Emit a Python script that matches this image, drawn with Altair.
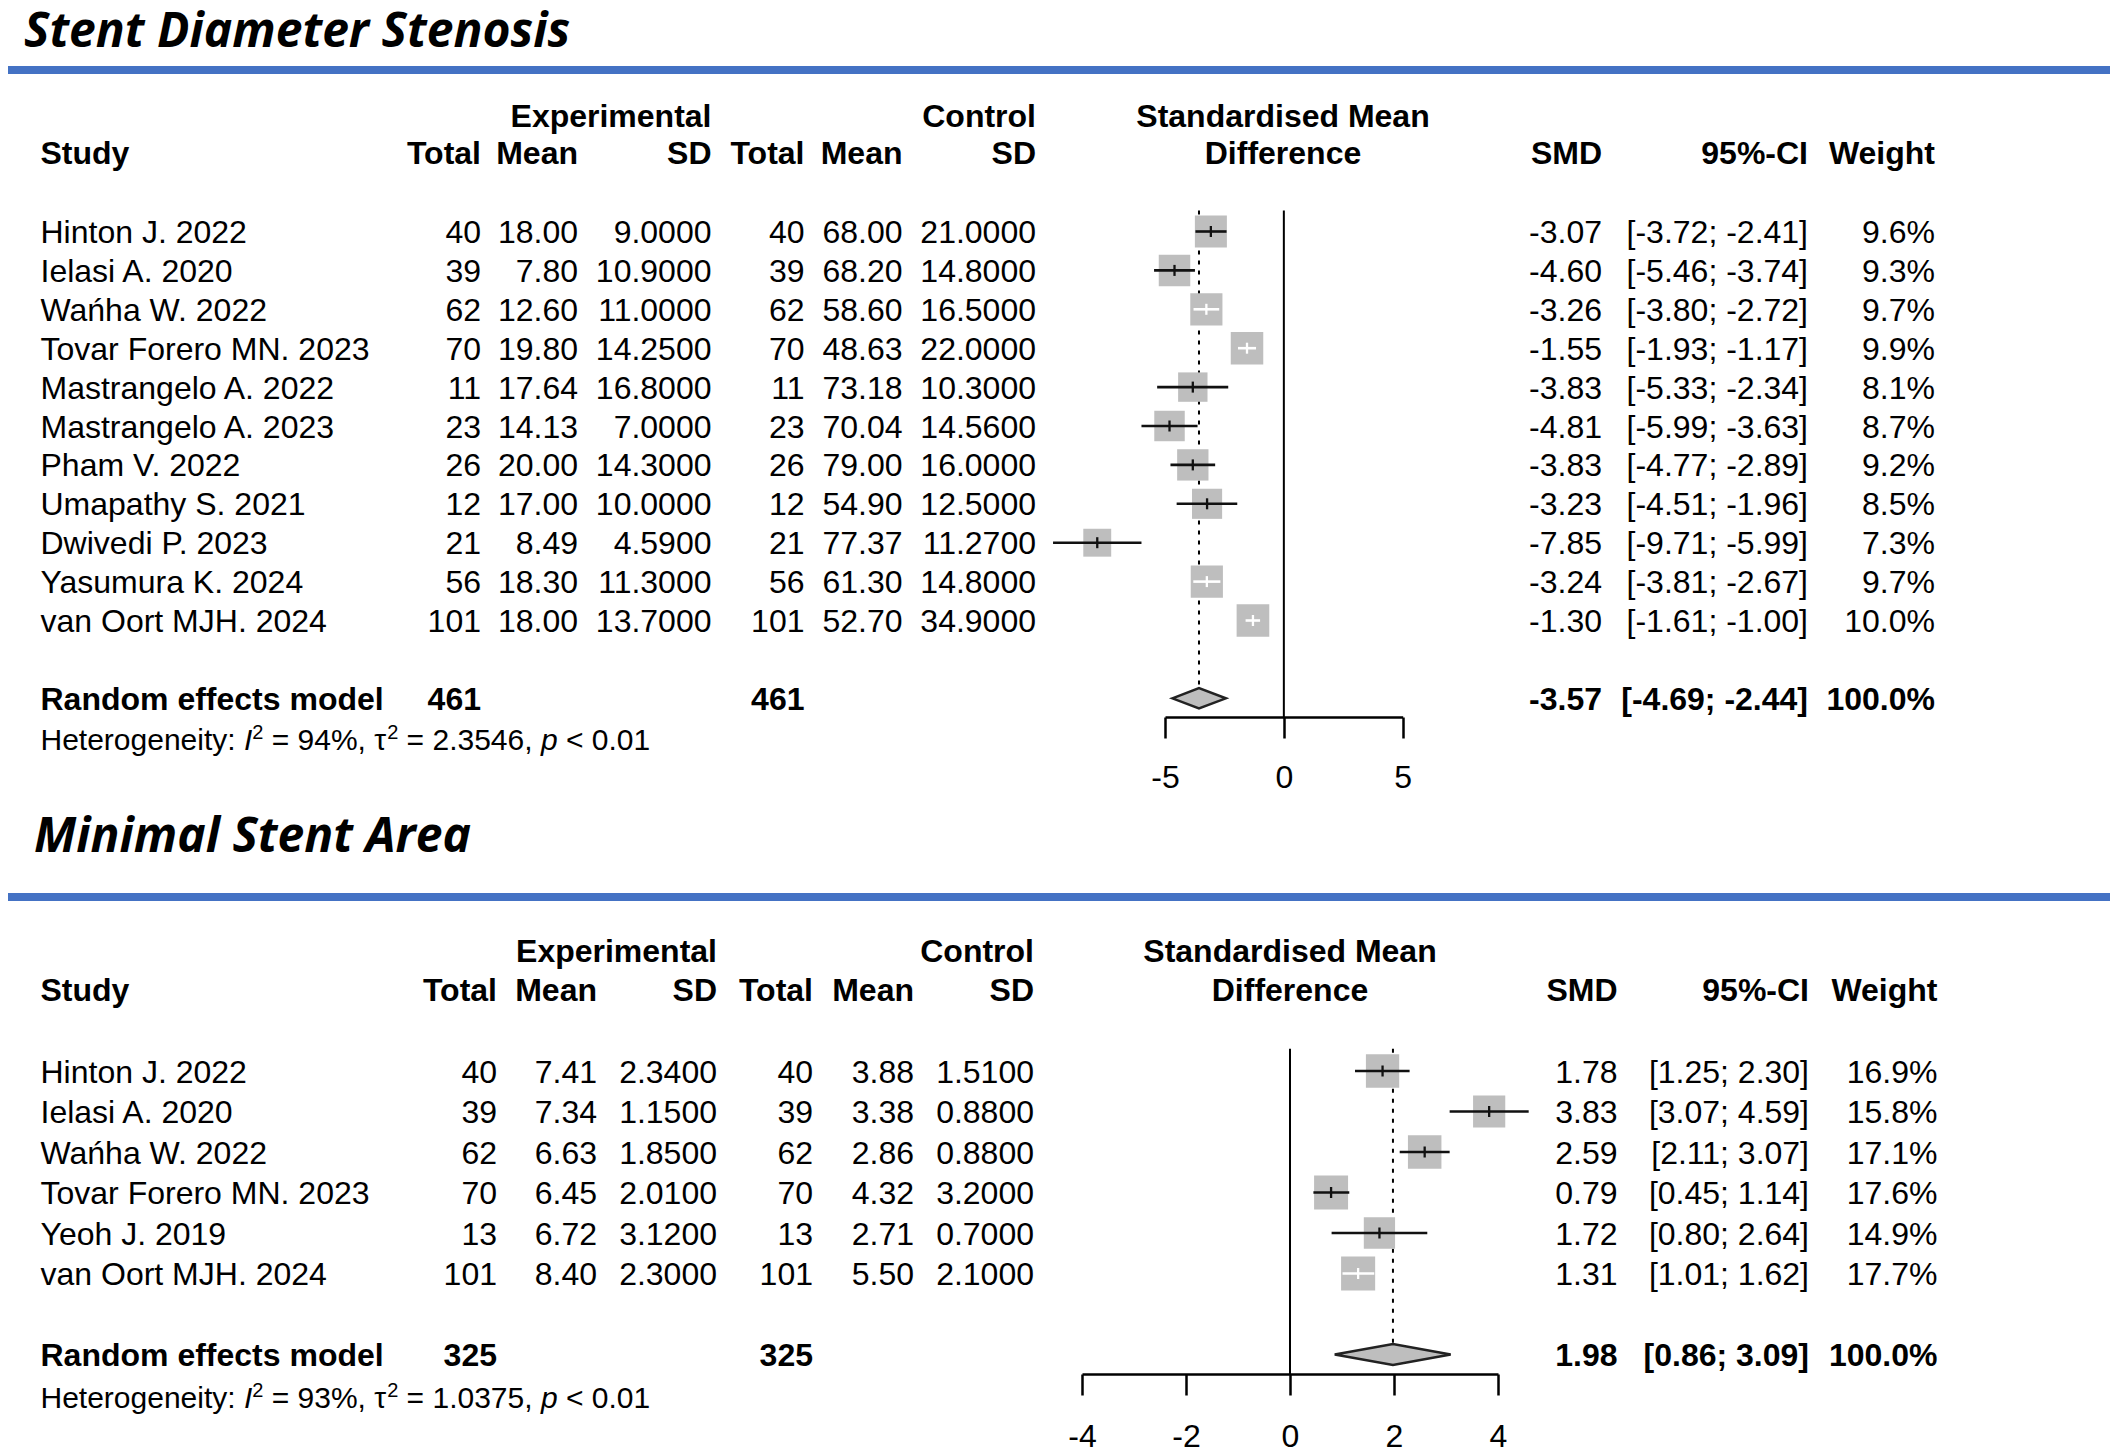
import altair as alt
import pandas as pd

# ---------------- Data: Stent Diameter Stenosis ----------------
sds_studies = ["Hinton J. 2022", "Ielasi A. 2020", "Wańha W. 2022", "Tovar Forero MN. 2023",
               "Mastrangelo A. 2022", "Mastrangelo A. 2023", "Pham V. 2022", "Umapathy S. 2021",
               "Dwivedi P. 2023", "Yasumura K. 2024", "van Oort MJH. 2024"]
sds_exp_total = [40, 39, 62, 70, 11, 23, 26, 12, 21, 56, 101]
sds_exp_mean = [18.00, 7.80, 12.60, 19.80, 17.64, 14.13, 20.00, 17.00, 8.49, 18.30, 18.00]
sds_exp_sd = [9.0, 10.9, 11.0, 14.25, 16.8, 7.0, 14.3, 10.0, 4.59, 11.3, 13.7]
sds_ctrl_total = [40, 39, 62, 70, 11, 23, 26, 12, 21, 56, 101]
sds_ctrl_mean = [68.00, 68.20, 58.60, 48.63, 73.18, 70.04, 79.00, 54.90, 77.37, 61.30, 52.70]
sds_ctrl_sd = [21.0, 14.8, 16.5, 22.0, 10.3, 14.56, 16.0, 12.5, 11.27, 14.8, 34.9]
sds_smd = [-3.07, -4.60, -3.26, -1.55, -3.83, -4.81, -3.83, -3.23, -7.85, -3.24, -1.30]
sds_ci_low = [-3.72, -5.46, -3.80, -1.93, -5.33, -5.99, -4.77, -4.51, -9.71, -3.81, -1.61]
sds_ci_high = [-2.41, -3.74, -2.72, -1.17, -2.34, -3.63, -2.89, -1.96, -5.99, -2.67, -1.00]
sds_weight = [9.6, 9.3, 9.7, 9.9, 8.1, 8.7, 9.2, 8.5, 7.3, 9.7, 10.0]
sds_re = {"exp_total": 461, "ctrl_total": 461, "smd": -3.57, "low": -4.69, "high": -2.44,
          "i2": 94, "tau2": 2.3546, "p": "< 0.01"}
sds_ticks = [-5, 0, 5]

# ---------------- Data: Minimal Stent Area ----------------
msa_studies = ["Hinton J. 2022", "Ielasi A. 2020", "Wańha W. 2022", "Tovar Forero MN. 2023",
               "Yeoh J. 2019", "van Oort MJH. 2024"]
msa_exp_total = [40, 39, 62, 70, 13, 101]
msa_exp_mean = [7.41, 7.34, 6.63, 6.45, 6.72, 8.40]
msa_exp_sd = [2.34, 1.15, 1.85, 2.01, 3.12, 2.30]
msa_ctrl_total = [40, 39, 62, 70, 13, 101]
msa_ctrl_mean = [3.88, 3.38, 2.86, 4.32, 2.71, 5.50]
msa_ctrl_sd = [1.51, 0.88, 0.88, 3.20, 0.70, 2.10]
msa_smd = [1.78, 3.83, 2.59, 0.79, 1.72, 1.31]
msa_ci_low = [1.25, 3.07, 2.11, 0.45, 0.80, 1.01]
msa_ci_high = [2.30, 4.59, 3.07, 1.14, 2.64, 1.62]
msa_weight = [16.9, 15.8, 17.1, 17.6, 14.9, 17.7]
msa_re = {"exp_total": 325, "ctrl_total": 325, "smd": 1.98, "low": 0.86, "high": 3.09,
          "i2": 93, "tau2": 1.0375, "p": "< 0.01"}
msa_ticks = [-4, -2, 0, 2, 4]

# ---------------- Styling ----------------
FONT = "Liberation Sans"
TITLE_FONT = "Open Sans"
TITLE_FS = 48
FS = 32
HET_FS = 30
GREY = "#BEBEBE"
BLUE = "#4472C4"
W = 2102


def f2(v):
    return f"{v:.2f}"


def label(text, x, y, align="left", bold=False, size=FS, font=FONT, italic=False):
    return alt.Chart(pd.DataFrame({"k": [0]})).mark_text(
        text=text, align=align, baseline="alphabetic", font=font, fontSize=size,
        fontWeight="bold" if bold else "normal",
        fontStyle="italic" if italic else "normal", color="black"
    ).encode(x=alt.value(x), y=alt.value(y))


def panel(title, studies, et, em, esd, ct, cm, csd, smd, lo, hi, wt, re, ticks, L):
    n = len(studies)
    df = pd.DataFrame({
        "row": list(range(n)), "study": studies,
        "et": [str(v) for v in et], "em": [f2(v) for v in em], "esd": [f"{v:.4f}" for v in esd],
        "ct": [str(v) for v in ct], "cm": [f2(v) for v in cm], "csd": [f"{v:.4f}" for v in csd],
        "smd": smd, "lo": lo, "hi": hi, "w": wt,
        "smd_s": [f2(v) for v in smd],
        "ci_s": [f"[{f2(a)}; {f2(b)}]" for a, b in zip(lo, hi)],
        "w_s": [f"{v:.1f}%" for v in wt],
    })
    re_row = n + 1
    re_df = pd.DataFrame({
        "row": [re_row], "study": ["Random effects model"],
        "et": [str(re["exp_total"])], "ct": [str(re["ctrl_total"])],
        "smd_s": [f2(re["smd"])], "ci_s": [f"[{f2(re['low'])}; {f2(re['high'])}]"],
        "w_s": ["100.0%"],
    })

    ysc = alt.Scale(domain=[0, n - 1], range=[L["y0"], L["y0"] + L["dy"] * (n - 1)],
                    nice=False, zero=False)
    xsc = alt.Scale(domain=L["xdom"], range=L["xr"], nice=False, zero=False)
    AX = alt.Axis(values=ticks, title=None, grid=False, domainColor="black", domainWidth=2.5,
                  tickColor="black", tickWidth=2.5, tickSize=21, labelFont=FONT,
                  labelFontSize=FS, labelColor="black", labelPadding=L["lab_pad"],
                  labelFlush=False, labelOverlap=False,
                  labelExpr="datum.value < 0 ? '-' + abs(datum.value) : '' + datum.value")

    def X(f):
        return alt.X(f, scale=xsc, axis=AX)

    def Y(f):
        return alt.Y(f, scale=ysc, axis=None)

    layers = []
    # title + blue band
    layers.append(label(title, L["title_x"], L["title_y"], font=TITLE_FONT, size=TITLE_FS,
                        bold=True, italic=True))
    layers.append(alt.Chart(pd.DataFrame({"k": [0]})).mark_rect(color=BLUE).encode(
        x=alt.value(0), x2=alt.value(W), y=alt.value(L["blue_y"] - 4), y2=alt.value(L["blue_y"] + 4)))

    # zero line and pooled-estimate dotted line
    ref = pd.DataFrame({"x": [0.0], "y1": [L["top_row"]], "y2": [L["axis_row"]]})
    layers.append(alt.Chart(ref).mark_rule(color="black", strokeWidth=2).encode(
        x=X("x:Q"), y=Y("y1:Q"), y2="y2:Q"))
    pooled = pd.DataFrame({"x": [re["smd"]], "y1": [L["top_row"]], "y2": [re_row - L["dh"]]})
    layers.append(alt.Chart(pooled).mark_rule(color="black", strokeWidth=2, strokeDash=[4, 6]).encode(
        x=X("x:Q"), y=Y("y1:Q"), y2="y2:Q"))

    # squares, CI lines, estimate ticks
    inside = f"(datum.hi - datum.lo) < {L['k']} * sqrt(datum.w)"
    layers.append(alt.Chart(df).mark_square(filled=True, color=GREY, opacity=1).encode(
        x=X("smd:Q"), y=Y("row:Q"),
        size=alt.Size("w:Q", scale=alt.Scale(domain=[0, L["wmax"]], range=[0, L["amax"]],
                                             zero=True, nice=False), legend=None)))
    layers.append(alt.Chart(df).mark_rule(strokeWidth=2.6, opacity=1).encode(
        x=X("lo:Q"), x2="hi:Q", y=Y("row:Q"),
        color=alt.condition(inside, alt.value("white"), alt.value("#111111"))))
    layers.append(alt.Chart(df).mark_tick(orient="vertical", size=11, thickness=2.3, opacity=1).encode(
        x=X("smd:Q"), y=Y("row:Q"),
        color=alt.condition(inside, alt.value("white"), alt.value("#111111"))))

    # diamond
    dh = L["dh"]
    dia = pd.DataFrame({"x": [re["low"], re["smd"], re["high"]],
                        "ya": [re_row, re_row - dh, re_row],
                        "yb": [re_row, re_row + dh, re_row]})
    layers.append(alt.Chart(dia).mark_area(fill=GREY, stroke="#222222", strokeWidth=2.5,
                                           orient="vertical", opacity=1, fillOpacity=1).encode(
        x=X("x:Q"), y=Y("ya:Q"), y2="yb:Q"))

    # headers
    C = L["cols"]
    h1, h2 = L["h1"], L["h2"]
    layers.append(label("Experimental", C["esd"], h1, "right", True))
    layers.append(label("Control", C["csd"], h1, "right", True))
    layers.append(label("Standardised Mean", L["hc"], h1, "center", True))
    layers.append(label("Study", C["study"], h2, "left", True))
    for txt, key in [("Total", "et"), ("Mean", "em"), ("SD", "esd"), ("Total", "ct"),
                     ("Mean", "cm"), ("SD", "csd"), ("SMD", "smd"), ("95%-CI", "ci"),
                     ("Weight", "w")]:
        layers.append(label(txt, C[key], h2, "right", True))
    layers.append(label("Difference", L["hc"], h2, "center", True))

    # study rows and pooled row
    def col(data, field, x, align, bold=False):
        return alt.Chart(data).mark_text(
            align=align, baseline="alphabetic", dy=11.5, font=FONT, fontSize=FS,
            fontWeight="bold" if bold else "normal", color="black"
        ).encode(x=alt.value(x), y=Y("row:Q"), text=f"{field}:N")

    layers.append(col(df, "study", C["study"], "left"))
    for field, key in [("et", "et"), ("em", "em"), ("esd", "esd"), ("ct", "ct"), ("cm", "cm"),
                       ("csd", "csd"), ("smd_s", "smd"), ("ci_s", "ci"), ("w_s", "w")]:
        layers.append(col(df, field, C[key], "right"))
    layers.append(col(re_df, "study", C["study"], "left", True))
    for field, key in [("et", "et"), ("ct", "ct"), ("smd_s", "smd"), ("ci_s", "ci"), ("w_s", "w")]:
        layers.append(col(re_df, field, C[key], "right", True))

    # heterogeneity line
    hy = L["het_y"]
    hx = L["het_x"]
    pieces = [("Heterogeneity:", 0, False, HET_FS, 0),
              ("I", 1, True, HET_FS, 0),
              ("2", 2, False, 20, -11),
              (f"= {re['i2']}%, τ", 3, False, HET_FS, 0),
              ("2", 4, False, 20, -11),
              (f"= {re['tau2']:.4f},", 5, False, HET_FS, 0),
              ("p", 6, True, HET_FS, 0),
              (re["p"], 7, False, HET_FS, 0)]
    for txt, i, ital, size, rise in pieces:
        layers.append(label(txt, hx[i], hy + rise, "left", False, size, FONT, ital))

    return alt.layer(*layers).properties(width=W, height=L["H"])


HET_X = [32.5, 235.9, 244.3, 263.7, 379.2, 398.6, 532.9, 557.9]

top_layout = {
    "H": 709, "title_x": 16, "title_y": 39, "blue_y": 62, "h1": 119, "h2": 156,
    "y0": 223.5, "dy": 38.9, "xdom": [-5, 5], "xr": [1157, 1394.7],
    "top_row": -0.54, "axis_row": (709 - 223.5) / 38.9, "dh": 0.26,
    "k": 0.40, "wmax": 10, "amax": 1067, "hc": 1275, "lab_pad": 24,
    "het_y": 742, "het_x": HET_X,
    "cols": {"study": 32.5, "et": 473, "em": 570, "esd": 703.5, "ct": 796.5, "cm": 894.5,
             "csd": 1028, "smd": 1594, "ci": 1800, "w": 1927},
}
bottom_layout = {
    "H": 657, "title_x": 26, "title_y": 135, "blue_y": 180, "h1": 245, "h2": 284,
    "y0": 354, "dy": 40.5, "xdom": [-4, 4], "xr": [1074, 1490],
    "top_row": -0.55, "axis_row": (657 - 354) / 40.5, "dh": 0.26,
    "k": 0.156, "wmax": 20, "amax": 1312, "hc": 1282, "lab_pad": 26,
    "het_y": 691, "het_x": HET_X,
    "cols": {"study": 32.5, "et": 489, "em": 589, "esd": 709, "ct": 805, "cm": 906,
             "csd": 1026, "smd": 1609.5, "ci": 1801, "w": 1929.5},
}

top = panel("Stent Diameter Stenosis", sds_studies, sds_exp_total, sds_exp_mean, sds_exp_sd,
            sds_ctrl_total, sds_ctrl_mean, sds_ctrl_sd, sds_smd, sds_ci_low, sds_ci_high,
            sds_weight, sds_re, sds_ticks, top_layout)
bottom = panel("Minimal Stent Area", msa_studies, msa_exp_total, msa_exp_mean, msa_exp_sd,
               msa_ctrl_total, msa_ctrl_mean, msa_ctrl_sd, msa_smd, msa_ci_low, msa_ci_high,
               msa_weight, msa_re, msa_ticks, bottom_layout)

chart = alt.vconcat(top, bottom, spacing=0, bounds="flush").resolve_scale(
    size="independent").properties(padding=0).configure_view(strokeWidth=0)

chart.save("out.html", embed_options={"renderer": "svg", "actions": False})
